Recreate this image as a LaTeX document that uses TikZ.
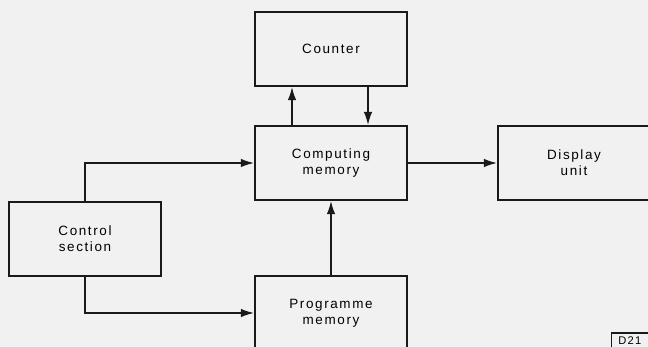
\documentclass[tikz,border=0pt]{standalone}
\usepackage{fontspec}
\setmainfont[LetterSpace=12]{Liberation Sans}
\usepackage{tikz}
\usetikzlibrary{arrows.meta}
\definecolor{paper}{HTML}{F1F1F1}
\definecolor{ink}{HTML}{1A1A1A}
\tikzstyle{block} = [rectangle, minimum width=45.6mm, minimum height=22.2mm, draw=ink, line width=1.5pt, align=center, font=\fontsize{11.5}{13.4}\selectfont]
\tikzstyle{arrow} = [draw=ink, line width=1.5pt, -{Latex[length=4mm,width=2.6mm]}]

\begin{document}
\begin{tikzpicture}[x=0.3mm, y=-0.3mm]
        \fill[paper] (0,0) rectangle (648,347);
        \useasboundingbox (0,0) rectangle (648,347);
        \clip (0,0) rectangle (648,347);

        \node (CNT) [block] at (331,49) {Counter};
        \node (CM) [block] at (331,163) {Computing \\ memory};
        \node (DU) [block] at (574,163) {Display \\ unit};
        \node (CS) [block] at (85,239) {Control \\ section};
        \node (PM) [block] at (331,313) {Programme \\ memory};

        \draw[arrow] ([xshift=-11.7mm]CM.north) -- ([xshift=-11.7mm]CNT.south);
        \draw[arrow] ([xshift=11.1mm]CNT.south) -- ([xshift=11.1mm]CM.north);

        \draw[arrow] (CM.east) -- (CM.east -| DU.west);
        \draw[arrow] (PM) -- (CM);

        \draw[arrow] (CS) |- (CM);
        \draw[arrow] (CS) |- (PM);

        \node (D21) [rectangle, draw=ink, line width=1pt, anchor=west, text width=12mm, align=left, minimum height=4.8mm, text depth=0pt, inner xsep=2mm, inner ysep=1pt, font=\fontsize{9.5}{11}\selectfont] at (611,341) {D21};

    \end{tikzpicture}
\end{document}
